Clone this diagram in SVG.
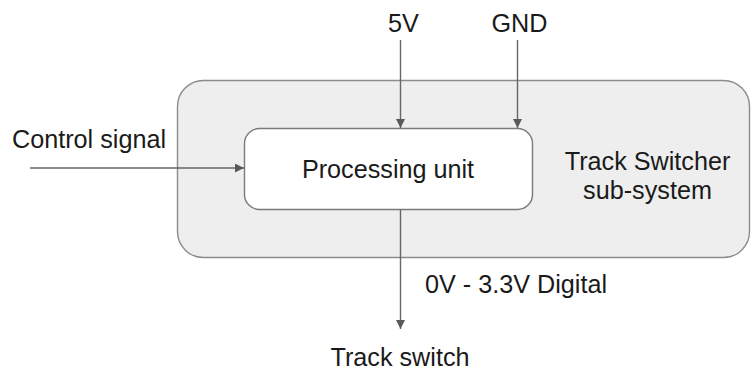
<svg xmlns="http://www.w3.org/2000/svg" width="751" height="369" viewBox="0 0 751 369">
<style>
text{font-family:"Liberation Sans",Arial,sans-serif;font-size:25.2px;fill:#1a1a1a}
.c{text-anchor:middle}
.ln{stroke:#666;stroke-width:1.4;fill:none}
</style>
<defs>
<marker id="ah" viewBox="0 0 10 10" refX="10" refY="5" markerWidth="11" markerHeight="9" markerUnits="userSpaceOnUse" orient="auto">
<path d="M0,0L10,5L0,10z" fill="#595959"/>
</marker>
</defs>
<rect width="751" height="369" fill="#fff"/>
<g id="subsystem">
<rect x="177.5" y="80.5" width="572" height="177" rx="26" fill="#eeeeee" stroke="#8c8c8c" stroke-width="1.4"/>
<text class="c" x="647.5" y="170">Track Switcher</text>
<text class="c" x="647.5" y="199">sub-system</text>
</g>
<g id="processing">
<rect x="244.5" y="128.5" width="288" height="81" rx="15" fill="#fff" stroke="#7a7a7a" stroke-width="1.4"/>
<text class="c" x="388" y="178">Processing unit</text>
</g>
<g id="labels">
<text x="12" y="148">Control signal</text>
<text class="c" x="403.5" y="32">5V</text>
<text class="c" x="519.5" y="32">GND</text>
<text x="425" y="293">0V - 3.3V Digital</text>
<text class="c" x="400" y="366">Track switch</text>
</g>
<g id="connectors">
<line class="ln" x1="30" y1="168" x2="244" y2="168" marker-end="url(#ah)"/>
<line class="ln" x1="400.5" y1="40" x2="400.5" y2="128" marker-end="url(#ah)"/>
<line class="ln" x1="517.5" y1="40" x2="517.5" y2="128" marker-end="url(#ah)"/>
<line class="ln" x1="400.5" y1="210" x2="400.5" y2="329" marker-end="url(#ah)"/>
</g>
</svg>
